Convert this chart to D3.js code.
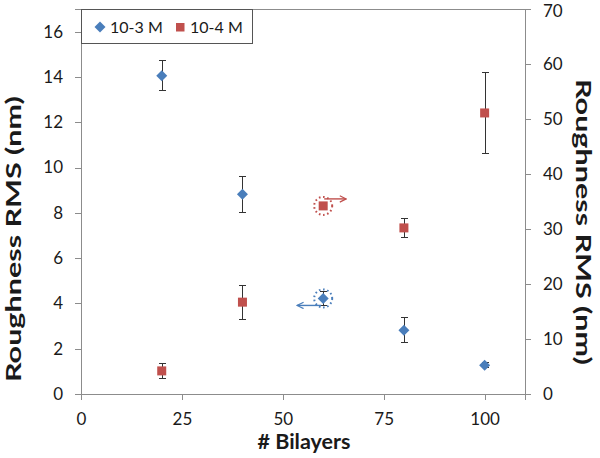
<!DOCTYPE html>
<html><head><meta charset="utf-8">
<script src="https://cdn.jsdelivr.net/npm/d3@7/dist/d3.min.js"></script>
<style>
body{margin:0;background:#fff;}
svg text{font-family:Lato,"Open Sans",sans-serif;fill:#1a1a1a;}
</style></head>
<body><svg id="c" width="600" height="458"></svg>
<script>
// ---- data ----
const bilayers = [20, 40, 60, 80, 100];
const series3Values = [14.05, 8.82, 4.22, 2.82, 1.27];   // 10-3 M, left axis
const series3Errors = [0.66, 0.80, 0.30, 0.55, 0.10];
const series4Values = [4.2, 16.7, 34.2, 30.2, 51.1];    // 10-4 M, right axis
const series4Errors = [1.4, 3.1, 0.5, 1.7, 7.3];
const xTicks = [0, 25, 50, 75, 100];
const leftTicks = [0, 2, 4, 6, 8, 10, 12, 14, 16];
const rightTicks = [0, 10, 20, 30, 40, 50, 60, 70];
const seriesNames = ["10-3 M", "10-4 M"];
const colors = ["#4a7ebb", "#c0504d"];

const svg = d3.select("#c");
const L = 81, R = 525, T = 9, B = 394;
const x = d3.scaleLinear().domain([0, 110]).range([L, R]);
const yL = d3.scaleLinear().domain([0, 17]).range([B, T]);
const yR = d3.scaleLinear().domain([0, 70]).range([B, T]);
const axisCol = "#8c8c8c";

// plot frame
svg.append("rect").attr("x", L).attr("y", T).attr("width", R - L).attr("height", B - T)
  .attr("fill", "none").attr("stroke", axisCol).attr("stroke-width", 1).attr("shape-rendering", "crispEdges");

function styleAxis(g) {
  g.select(".domain").attr("stroke", axisCol).attr("shape-rendering", "crispEdges");
  g.selectAll(".tick line").attr("stroke", axisCol).attr("shape-rendering", "crispEdges");
  g.selectAll(".tick text").attr("font-size", 17).attr("fill", "#1a1a1a");
  g.attr("font-family", null);
}
svg.append("g").attr("transform", `translate(0,${B})`)
  .call(d3.axisBottom(x).tickValues(xTicks).tickSize(6).tickPadding(13).tickFormat(d3.format("d")))
  .call(styleAxis);
svg.append("g").attr("transform", `translate(${L},0)`)
  .call(d3.axisLeft(yL).tickValues(leftTicks).tickSize(6).tickPadding(12).tickFormat(d3.format("d")))
  .call(styleAxis);
const rAxis = svg.append("g").attr("transform", `translate(${R},0)`)
  .call(d3.axisRight(yR).tickValues(rightTicks).tickSize(6).tickPadding(12).tickFormat(d3.format("d")))
  .call(styleAxis);
// keep the top label inside the picture
rAxis.selectAll(".tick text").filter(d => d === 70).attr("y", 2);

// titles
svg.append("text").attr("x", 304).attr("y", 449).attr("text-anchor", "middle")
  .attr("font-size", 20).attr("font-weight", "bold")
  .attr("textLength", 93).attr("lengthAdjust", "spacingAndGlyphs").text("# Bilayers");
svg.append("text").attr("transform", "translate(21,239) rotate(-90)").attr("text-anchor", "middle")
  .attr("font-size", 21).attr("font-weight", "bold")
  .attr("textLength", 286).attr("lengthAdjust", "spacingAndGlyphs").text("Roughness RMS (nm)");
svg.append("text").attr("transform", "translate(576,222) rotate(90)").attr("text-anchor", "middle")
  .attr("font-size", 21).attr("font-weight", "bold")
  .attr("textLength", 286).attr("lengthAdjust", "spacingAndGlyphs").text("Roughness RMS (nm)");

// error bars
function errorBars(vals, errs, y) {
  const g = svg.append("g").attr("stroke", "#333").attr("stroke-width", 1).attr("shape-rendering", "crispEdges");
  bilayers.forEach((b, i) => {
    const cx = Math.round(x(b)) + 0.5;
    const y1 = y(vals[i] + errs[i]), y2 = y(vals[i] - errs[i]);
    g.append("line").attr("x1", cx).attr("x2", cx).attr("y1", y1).attr("y2", y2);
    g.append("line").attr("x1", cx - 3.5).attr("x2", cx + 3.5).attr("y1", y1).attr("y2", y1);
    g.append("line").attr("x1", cx - 3.5).attr("x2", cx + 3.5).attr("y1", y2).attr("y2", y2);
  });
}
errorBars(series3Values, series3Errors, yL);
errorBars(series4Values, series4Errors, yR);

// markers
const diamond = "M0,-5.5L5.5,0L0,5.5L-5.5,0Z";
svg.append("g").selectAll("path").data(bilayers).join("path")
  .attr("d", diamond).attr("fill", colors[0])
  .attr("transform", (d, i) => `translate(${x(d)},${yL(series3Values[i])})`);
svg.append("g").selectAll("rect").data(bilayers).join("rect")
  .attr("x", d => x(d) - 4.5).attr("y", (d, i) => yR(series4Values[i]) - 4.5)
  .attr("width", 9).attr("height", 9).attr("fill", colors[1]);

// annotations: dotted circles + arrows toward the axis each series uses
const defs = svg.append("defs");
colors.forEach((c, i) => {
  defs.append("marker").attr("id", "ah" + i).attr("viewBox", "0 0 10 10").attr("refX", 9).attr("refY", 5)
    .attr("markerWidth", 8).attr("markerHeight", 8).attr("orient", "auto-start-reverse")
    .attr("markerUnits", "userSpaceOnUse")
    .append("path").attr("d", "M1,1 L9,5 L1,9").attr("fill", "none").attr("stroke", c).attr("stroke-width", 1.5);
});
const p3 = [x(60), yL(series3Values[2])];
const p4 = [x(60), yR(series4Values[2])];
svg.append("circle").attr("cx", p3[0]).attr("cy", p3[1]).attr("r", 9).attr("fill", "none")
  .attr("stroke", colors[0]).attr("stroke-width", 2).attr("stroke-dasharray", "1.6 2.6");
svg.append("circle").attr("cx", p4[0]).attr("cy", p4[1]).attr("r", 9).attr("fill", "none")
  .attr("stroke", colors[1]).attr("stroke-width", 2).attr("stroke-dasharray", "1.6 2.6");
svg.append("line").attr("x1", p3[0] - 2).attr("y1", p3[1] + 7).attr("x2", p3[0] - 26).attr("y2", p3[1] + 7)
  .attr("stroke", colors[0]).attr("stroke-width", 1.4).attr("marker-end", "url(#ah0)");
svg.append("line").attr("x1", p4[0] + 1).attr("y1", p4[1] - 7).attr("x2", p4[0] + 23).attr("y2", p4[1] - 7)
  .attr("stroke", colors[1]).attr("stroke-width", 1.4).attr("marker-end", "url(#ah1)");

// legend
const lg = svg.append("g");
lg.append("rect").attr("x", L).attr("y", T).attr("width", 171).attr("height", 34)
  .attr("fill", "#fff").attr("stroke", "#555").attr("shape-rendering", "crispEdges");
lg.append("path").attr("d", diamond).attr("fill", colors[0]).attr("transform", "translate(100,27)");
lg.append("rect").attr("x", 176).attr("y", 23).attr("width", 8.5).attr("height", 8.5).attr("fill", colors[1]);
lg.append("text").attr("x", 110).attr("y", 33).attr("font-size", 16).text(seriesNames[0]);
lg.append("text").attr("x", 190).attr("y", 33).attr("font-size", 16).text(seriesNames[1]);
</script></body></html>
